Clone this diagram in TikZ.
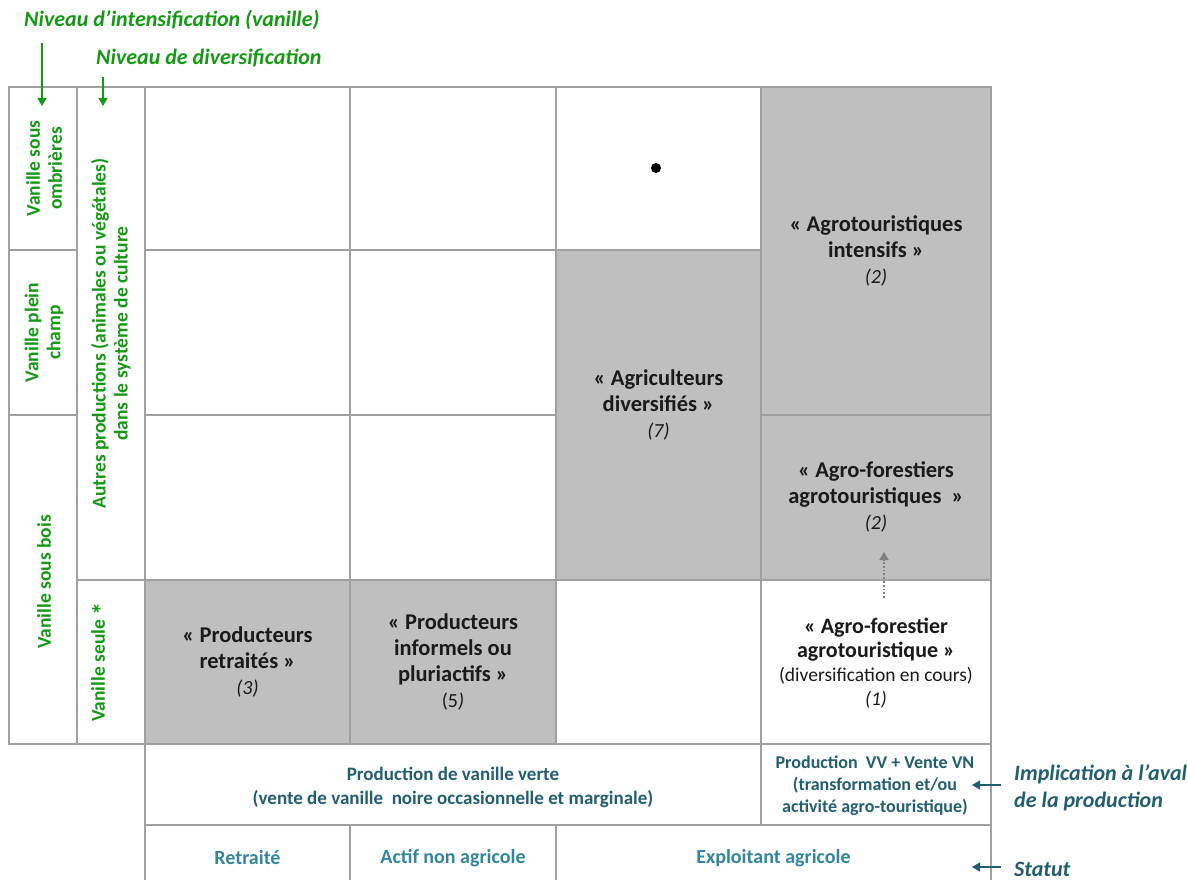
\documentclass[tikz,border=0pt]{standalone}
\usepackage{fontspec}
\setmainfont{Carlito}
\usetikzlibrary{arrows.meta,fit}
\definecolor{lgray}{HTML}{A0A0A0}
\definecolor{cgray}{HTML}{BFBFBF}
\definecolor{vgreen}{HTML}{149914}
\definecolor{teal1}{HTML}{31859C}
\definecolor{teal2}{HTML}{215E6E}
\definecolor{dgray}{HTML}{7F7F7F}
\definecolor{ink}{HTML}{1A1A1A}
\newcommand{\numfont}{\fontsize{20}{26}\selectfont\mdseries\itshape}
\begin{document}
\begin{tikzpicture}[x=1pt,y=-1pt,
  cell/.style={draw=lgray, line width=1.3pt, inner sep=0pt, outer sep=0pt, fill=white},
  gcell/.style={cell, fill=cgray},
  gridline/.style={draw=lgray, line width=1.3pt},
  ctext/.style={align=center, inner sep=0pt, text=ink, font=\fontsize{22.5}{26}\selectfont\bfseries},
  vtext/.style={align=center, inner sep=0pt, text=vgreen, rotate=90, font=\fontsize{19.5}{22}\selectfont\bfseries},
  ttext/.style={align=center, inner sep=0pt, text=teal2, font=\fontsize{19}{24}\selectfont\bfseries},
  stext/.style={align=center, inner sep=0pt, text=teal1, font=\fontsize{20}{24}\selectfont\bfseries},
  title/.style={anchor=west, inner sep=0pt, text=vgreen, font=\fontsize{22}{26}\selectfont\bfseries\itshape},
  side/.style={anchor=west, align=left, inner sep=0pt, text=teal2, font=\fontsize{22}{27}\selectfont\bfseries\itshape},
  garrow/.style={draw=vgreen, line width=1.3pt, -{Triangle[width=9pt,length=8pt]}},
  tarrow/.style={draw=teal2, line width=1.3pt, -{Triangle[width=9pt,length=8pt]}},
  darrow/.style={draw=dgray, line width=1.8pt, dotted, -{Triangle[width=9pt,length=8pt]}}
]
\useasboundingbox (0,0) rectangle (1187,880);
% left columns
\node[cell,fit={(9,87)(77,250)}] (a1) {};
\node[cell,fit={(9,250)(77,415)}] (a2) {};
\node[cell,fit={(9,415)(77,744)}] (a3) {};
\node[cell,fit={(77,87)(145,580)}] (b1) {};
\node[cell,fit={(77,580)(145,744)}] (b2) {};
% white cells
\node[cell,fit={(145,87)(350,250)}] (c11) {};
\node[cell,fit={(145,250)(350,415)}] (c12) {};
\node[cell,fit={(145,415)(350,580)}] (c13) {};
\node[cell,fit={(350,87)(556,250)}] (c21) {};
\node[cell,fit={(350,250)(556,415)}] (c22) {};
\node[cell,fit={(350,415)(556,580)}] (c23) {};
\node[cell,fit={(556,87)(761,250)}] (c31) {};
\node[cell,fit={(556,580)(761,744)}] (c34) {};
\node[cell,fit={(761,580)(991,744)}] (c44) {};
% gray cells
\node[gcell,fit={(145,580)(350,744)}] (g1) {};
\node[gcell,fit={(350,580)(556,744)}] (g2) {};
\node[gcell,fit={(556,250)(761,580)}] (g3) {};
\node[gcell,fit={(761,87)(991,415)}] (g4) {};
\node[gcell,fit={(761,415)(991,580)}] (g5) {};
% production row
\node[cell,fit={(145,744)(761,825)}] (p1) {};
\node[cell,fit={(761,744)(991,825)}] (p2) {};
\draw[gridline] (9,744) -- (145,744);
% status row lines
\draw[gridline] (145,825) -- (991,825);
\draw[gridline] (145,825) -- (145,881);
\draw[gridline] (350,825) -- (350,881);
\draw[gridline] (556,825) -- (556,881);
\draw[gridline] (991,825) -- (991,881);

% titles and green arrows
\node[title] (tint) at (24,20) {Niveau d’intensification (vanille)};
\node[title] (tdiv) at (96,58) {Niveau de diversification};
\coordinate (ga1) at (42,43);
\coordinate (gb1) at (42,106);
\coordinate (ga2) at (103,77);
\coordinate (gb2) at (103,106);
\draw[garrow] (ga1) -- (gb1);
\draw[garrow] (ga2) -- (gb2);

% vertical labels
\node[vtext] (la1) at (44,168.5) {Vanille sous\\ombrières};
\node[vtext] (la2) at (44,332.5) {Vanille plein\\champ};
\node[vtext] (la3) at (44,582) {Vanille sous bois};
\node[vtext] (lb1) at (111,333.5) {Autres productions (animales ou végétales)\\dans le système de culture};
\node[vtext] (lb2) at (101,662) {Vanille seule \raisebox{-6pt}{\fontsize{26}{22}\selectfont*}};

% cell texts
\node[ctext] (t1) at (247.5,662) {« Producteurs\\retraités »\\{\numfont (3)}};
\node[ctext] (t2) at (453,662) {« Producteurs\\informels ou\\pluriactifs »\\{\fontsize{20}{26}\selectfont\mdseries (5\textit{)}}};
\node[ctext] (t3) at (658.5,405) {« Agriculteurs\\diversifiés »\\{\numfont (7)}};
\node[ctext] (t4) at (876,251) {« Agrotouristiques\\intensifs »\\{\numfont (2)}};
\node[ctext] (t5) at (876,497) {« Agro-forestiers\\agrotouristiques~~»\\{\numfont (2)}};
\node[ctext, font=\fontsize{22}{24}\selectfont\bfseries] (t6) at (876,663) {« Agro-forestier\\agrotouristique »\\{\fontsize{19.5}{24}\selectfont\mdseries (diversification en cours)}\\{\fontsize{19.5}{24}\selectfont\mdseries\itshape (1)}};
\node[circle, fill=black, inner sep=0pt, minimum size=10pt] (dot) at (656,168) {};
\coordinate (da1) at (884,598);
\coordinate (da2) at (884,552);
\draw[darrow] (da1) -- (da2);

% production texts
\node[ttext] (pt1) at (453,787) {Production de vanille verte\\(vente de vanille~ noire occasionnelle et marginale)};
\node[ttext, font=\fontsize{18}{22}\selectfont\bfseries] (pt2) at (875,786) {Production~~VV + Vente VN\\(transformation et/ou\\activité agro-touristique)};

% status texts
\node[stext] (s1) at (247.5,858) {Retraité};
\node[stext] (s2) at (453,858) {Actif non agricole};
\node[stext] (s3) at (773.5,858) {Exploitant agricole};

% side labels
\node[side] (impl) at (1014,788) {Implication à l’aval\\de la production};
\node[side] (stat) at (1014,869) {Statut};
\coordinate (ia) at (1001,785);
\coordinate (ib) at (972,785);
\coordinate (sa) at (1001,867);
\coordinate (sb) at (972,867);
\draw[tarrow] (ia) -- (ib);
\draw[tarrow] (sa) -- (sb);
\end{tikzpicture}
\end{document}
